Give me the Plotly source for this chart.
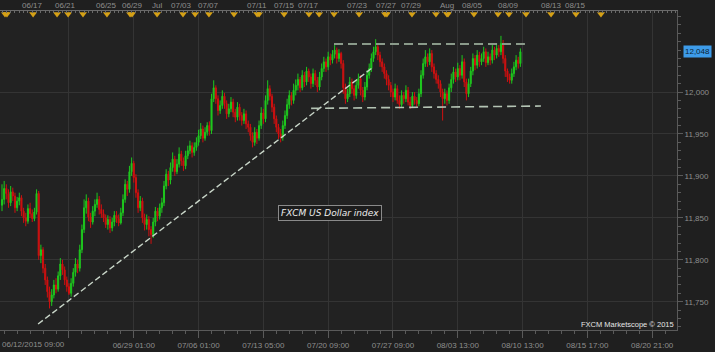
import plotly.graph_objects as go

# ---------------- data (4H candles, FXCM US Dollar index) ----------------
opens = [11865, 11872, 11885, 11879, 11868, 11881, 11876, 11862, 11870, 11874,
         11858, 11850, 11846, 11861, 11855, 11849, 11857, 11879, 11805, 11812,
         11790, 11776, 11762, 11750, 11758, 11770, 11765, 11781, 11795, 11788,
         11776, 11768, 11760, 11772, 11785, 11795, 11790, 11812, 11836, 11862,
         11870, 11851, 11845, 11858, 11866, 11872, 11860, 11855, 11850, 11842,
         11848, 11838, 11845, 11853, 11849, 11844, 11856, 11872, 11890, 11884,
         11905, 11915, 11898, 11880, 11862, 11870, 11850, 11842, 11848, 11836,
         11830, 11845, 11858, 11852, 11862, 11868, 11888, 11902, 11895, 11910,
         11920, 11905, 11914, 11926, 11918, 11912, 11924, 11930, 11936, 11928,
         11934, 11940, 11948, 11956, 11945, 11952, 11960, 11954, 11992, 12005,
         11992, 11978, 11984, 11995, 11986, 11974, 11980, 11988, 11976, 11970,
         11982, 11972, 11966, 11974, 11962, 11958, 11948, 11940, 11952, 11945,
         11960, 11975, 11968, 11990, 12004, 11995, 11982, 11968, 11958, 11950,
         11946, 11960, 11972, 11985, 11996, 11990, 12002, 12008, 12015, 12005,
         12020, 12012, 12025, 12018, 12010, 12022, 12014, 12006, 12018, 12028,
         12036, 12030, 12042, 12038, 12045, 12050, 12040, 12046, 12034, 12005,
         11992, 11998, 12012, 12004, 11996, 12008, 12016, 12002, 11994, 12006,
         12020, 12028, 12040, 12048, 12054, 12044, 12036, 12030, 12022, 12015,
         12008, 12000, 11994, 12004, 11990, 11985, 11996, 11992, 12002, 11988,
         11984, 11995, 11990, 11986, 11998, 12020, 12034, 12042, 12036, 12046,
         12030, 12022, 12015, 12010, 12000, 11992, 11998, 11990, 12005, 12015,
         12024, 12018, 12028, 12020, 12036, 12012, 11998, 12010, 12025, 12040,
         12032, 12044, 12036, 12040, 12048, 12035, 12042, 12038, 12050, 12044,
         12052, 12048, 12058, 12040, 12025, 12018, 12014, 12022, 12030, 12038,
         12034]

closes = [11872, 11885, 11879, 11868, 11881, 11876, 11862, 11870, 11874, 11858,
          11850, 11846, 11861, 11855, 11849, 11857, 11879, 11805, 11812, 11790,
          11776, 11762, 11750, 11758, 11770, 11765, 11781, 11795, 11788, 11776,
          11768, 11760, 11772, 11785, 11795, 11790, 11812, 11836, 11862, 11870,
          11851, 11845, 11858, 11866, 11872, 11860, 11855, 11850, 11842, 11848,
          11838, 11845, 11853, 11849, 11844, 11856, 11872, 11890, 11884, 11905,
          11915, 11898, 11880, 11862, 11870, 11850, 11842, 11848, 11836, 11830,
          11845, 11858, 11852, 11862, 11868, 11888, 11902, 11895, 11910, 11920,
          11905, 11914, 11926, 11918, 11912, 11924, 11930, 11936, 11928, 11934,
          11940, 11948, 11956, 11945, 11952, 11960, 11954, 11992, 12005, 11992,
          11978, 11984, 11995, 11986, 11974, 11980, 11988, 11976, 11970, 11982,
          11972, 11966, 11974, 11962, 11958, 11948, 11940, 11952, 11945, 11960,
          11975, 11968, 11990, 12004, 11995, 11982, 11968, 11958, 11950, 11946,
          11960, 11972, 11985, 11996, 11990, 12002, 12008, 12015, 12005, 12020,
          12012, 12025, 12018, 12010, 12022, 12014, 12006, 12018, 12028, 12036,
          12030, 12042, 12038, 12045, 12050, 12040, 12046, 12034, 12005, 11992,
          11998, 12012, 12004, 11996, 12008, 12016, 12002, 11994, 12006, 12020,
          12028, 12040, 12048, 12054, 12044, 12036, 12030, 12022, 12015, 12008,
          12000, 11994, 12004, 11990, 11985, 11996, 11992, 12002, 11988, 11984,
          11995, 11990, 11986, 11998, 12020, 12034, 12042, 12036, 12046, 12030,
          12022, 12015, 12010, 12000, 11992, 11998, 11990, 12005, 12015, 12024,
          12018, 12028, 12020, 12036, 12012, 11998, 12010, 12025, 12040, 12032,
          12044, 12036, 12040, 12048, 12035, 12042, 12038, 12050, 12044, 12052,
          12048, 12058, 12040, 12025, 12018, 12014, 12022, 12030, 12038, 12034,
          12048]

highs = [11890, 11894, 11890, 11884, 11888, 11886, 11880, 11875, 11880, 11877,
         11862, 11856, 11866, 11868, 11860, 11862, 11884, 11882, 11818, 11815,
         11795, 11780, 11768, 11765, 11776, 11778, 11786, 11802, 11800, 11792,
         11780, 11772, 11778, 11790, 11802, 11800, 11818, 11842, 11872, 11878,
         11874, 11856, 11864, 11872, 11880, 11876, 11866, 11860, 11854, 11853,
         11852, 11850, 11858, 11858, 11854, 11862, 11878, 11896, 11894, 11912,
         11922, 11918, 11902, 11884, 11876, 11874, 11855, 11854, 11852, 11840,
         11850, 11863, 11862, 11867, 11874, 11894, 11908, 11906, 11916, 11928,
         11924, 11920, 11934, 11930, 11922, 11930, 11936, 11942, 11940, 11940,
         11946, 11955, 11963, 11960, 11958, 11964, 11965, 11998, 12014, 12008,
         11996, 11990, 12002, 11999, 11990, 11986, 11994, 11992, 11980, 11988,
         11986, 11976, 11980, 11978, 11966, 11962, 11952, 11958, 11956, 11966,
         11982, 11980, 11996, 12014, 12008, 11998, 11986, 11972, 11962, 11956,
         11966, 11978, 11992, 12002, 12000, 12010, 12015, 12022, 12018, 12026,
         12024, 12030, 12028, 12022, 12028, 12026, 12018, 12024, 12034, 12042,
         12040, 12048, 12046, 12050, 12056, 12053, 12051, 12048, 12038, 12010,
         12004, 12018, 12016, 12008, 12014, 12022, 12020, 12006, 12012, 12026,
         12034, 12046, 12054, 12063, 12058, 12048, 12040, 12034, 12026, 12020,
         12012, 12004, 12010, 12008, 11996, 12002, 12000, 12008, 12006, 11994,
         12000, 12000, 11994, 12004, 12026, 12040, 12050, 12046, 12052, 12050,
         12034, 12026, 12020, 12014, 12004, 12004, 12002, 12010, 12022, 12030,
         12028, 12035, 12032, 12044, 12040, 12016, 12016, 12030, 12046, 12044,
         12050, 12048, 12046, 12054, 12052, 12048, 12046, 12057, 12054, 12058,
         12056, 12067, 12062, 12044, 12028, 12022, 12028, 12036, 12044, 12042,
         12052]

lows = [11858, 11866, 11872, 11862, 11864, 11870, 11856, 11858, 11865, 11852,
        11844, 11840, 11843, 11850, 11845, 11846, 11854, 11800, 11796, 11784,
        11770, 11755, 11742, 11745, 11754, 11760, 11762, 11776, 11782, 11770,
        11762, 11758, 11756, 11768, 11780, 11784, 11786, 11808, 11832, 11855,
        11846, 11838, 11842, 11852, 11862, 11854, 11850, 11845, 11838, 11836,
        11832, 11834, 11840, 11844, 11840, 11842, 11852, 11868, 11876, 11880,
        11900, 11892, 11874, 11856, 11858, 11844, 11835, 11836, 11828, 11819,
        11826, 11840, 11846, 11848, 11856, 11864, 11884, 11888, 11890, 11905,
        11900, 11902, 11910, 11912, 11906, 11908, 11920, 11926, 11922, 11924,
        11930, 11936, 11944, 11940, 11942, 11948, 11948, 11950, 11988, 11986,
        11972, 11974, 11980, 11980, 11968, 11970, 11976, 11970, 11964, 11966,
        11966, 11960, 11962, 11956, 11952, 11942, 11934, 11936, 11938, 11942,
        11956, 11962, 11964, 11985, 11990, 11976, 11962, 11952, 11944, 11940,
        11942, 11956, 11968, 11980, 11984, 11986, 11996, 12002, 12000, 12002,
        12006, 12008, 12012, 12004, 12006, 12008, 12000, 12002, 12014, 12024,
        12024, 12026, 12032, 12034, 12040, 12034, 12036, 12028, 11998, 11986,
        11988, 11994, 11998, 11990, 11992, 12004, 11996, 11988, 11990, 12002,
        12016, 12024, 12036, 12044, 12038, 12030, 12024, 12016, 12008, 12002,
        11994, 11988, 11990, 11986, 11980, 11982, 11986, 11988, 11984, 11980,
        11982, 11985, 11982, 11983, 11994, 12016, 12030, 12030, 12032, 12024,
        12016, 12010, 12004, 11994, 11966, 11986, 11984, 11986, 12000, 12010,
        12012, 12014, 12014, 12016, 12006, 11990, 11994, 12006, 12020, 12026,
        12028, 12030, 12032, 12036, 12030, 12032, 12032, 12034, 12038, 12040,
        12042, 12044, 12034, 12018, 12012, 12010, 12010, 12018, 12026, 12028,
        12030]

# time axis labels (bar index positions)
grid_bars = [31, 61, 91, 121, 151, 181, 211, 241, 271, 301]
grid_labels = ["", "06/29 01:00", "07/06 01:00", "07/13 05:00", "07/20 09:00",
               "07/27 09:00", "08/03 13:00", "08/10 13:00", "08/15 17:00", "08/20 21:00"]
first_label = "06/12/2015 09:00"

# event calendar markers on the top strip
event_bars = [1.4, 2.3, 14.4, 25.5, 30.6, 37.5, 48.6, 59.3, 60.2, 71.8, 83.8, 89.4,
              95.8, 107.4, 118.1, 119.0, 130.6, 142.1, 146.8, 153.7, 165.3, 177.3,
              178.2, 189.8, 200.9, 206.0, 206.5, 218.5, 229.6, 234.7, 242.6, 254.2,
              265.7, 277.3]
top_label_bars = [13.9, 29.6, 48.6, 60.6, 71.8, 83.3, 95.8, 118.0, 130.6, 142.1,
                  164.8, 177.8, 189.4, 206.0, 218.0, 234.7, 254.2, 265.7]
top_labels = ["06/17", "06/21", "06/25", "06/29", "Jul", "07/03", "07/07", "07/11",
              "07/15", "07/17", "07/23", "07/27", "07/29", "Aug", "08/05", "08/09",
              "08/13", "08/15"]

# drawn lines (bar index, price)
resist_x = [153.7, 242.1]
resist_y = [12057.2, 12057.2]
support_x = [143.1, 249.5]
support_y = [11980.5, 11983.3]
trend_x = [16.7, 171.3]
trend_y = [11723.4, 12028.6]

y_ticks = [11750, 11800, 11850, 11900, 11950, 12000]
last_price = 12048

# ---------------- figure ----------------
bars = list(range(len(closes)))
GREEN = "#1ec81e"
RED = "#d01010"
GRID = "#343434"
AXIS = "#5a5a5a"
LABEL = "#8e8e8e"
XR = [-0.93, 312.5]
YR = [11716.3, 12096.6]

fig = go.Figure()
fig.add_trace(go.Candlestick(
    x=bars, open=opens, high=highs, low=lows, close=closes,
    increasing=dict(line=dict(color=GREEN, width=1), fillcolor=GREEN),
    decreasing=dict(line=dict(color=RED, width=1), fillcolor=RED),
    whiskerwidth=0, hoverinfo="skip", showlegend=False))

fig.add_trace(go.Scatter(x=trend_x, y=trend_y, mode="lines",
                         line=dict(color="#c9d6c9", width=1.4, dash="6px,3px"),
                         hoverinfo="skip", showlegend=False))
fig.add_trace(go.Scatter(x=resist_x, y=resist_y, mode="lines",
                         line=dict(color="#8a9a8a", width=2, dash="9px,5px"),
                         hoverinfo="skip", showlegend=False))
fig.add_trace(go.Scatter(x=support_x, y=support_y, mode="lines",
                         line=dict(color="#b4c4b4", width=1.6, dash="9px,5px"),
                         hoverinfo="skip", showlegend=False))

# event triangles on a top overlay axis
fig.add_trace(go.Scatter(x=event_bars, y=[0.9906] * len(event_bars), mode="markers",
                         marker=dict(symbol="triangle-down", size=7, color="#d4a017"),
                         xaxis="x2", yaxis="y2", cliponaxis=False,
                         hoverinfo="skip", showlegend=False))

annotations = []
for b, t in zip(top_label_bars, top_labels):
    annotations.append(dict(x=b, y=1.0188, xref="x", yref="paper", text=t,
                            showarrow=False, xanchor="center", yanchor="middle",
                            font=dict(family="Liberation Sans", size=8, color=LABEL)))
annotations.append(dict(x=0, y=-0.047, xref="paper", yref="paper", text=first_label,
                        showarrow=False, xanchor="left", yanchor="middle",
                        font=dict(family="Liberation Sans", size=8, color=LABEL)))
annotations.append(dict(x=151.9, y=11855.2, xref="x", yref="y",
                        text="FXCM US Dollar index", showarrow=False,
                        font=dict(family="DejaVu Sans", size=9, color="#ececec", style="italic"),
                        bgcolor="#1c1c1c", bordercolor="#8a8a8a", borderwidth=1, borderpad=2))
annotations.append(dict(x=0.998, y=0.0157, xref="paper", yref="paper",
                        text="FXCM Marketscope © 2015", showarrow=False,
                        xanchor="right", yanchor="middle",
                        font=dict(family="Liberation Sans", size=7.5, color="#e6e6e6")))
annotations.append(dict(x=1.0089, y=last_price, xref="paper", yref="y",
                        text=f"{last_price:,}", showarrow=False,
                        xanchor="left", yanchor="middle",
                        bgcolor="#3d9be9", borderpad=1,
                        font=dict(family="Liberation Sans", size=8, color="#0c1f33")))

fig.update_layout(
    width=715, height=352,
    margin=dict(l=0, r=38, t=11, b=22),
    paper_bgcolor="#1f1f1f", plot_bgcolor="#222222",
    hovermode=False, showlegend=False,
    xaxis=dict(range=XR, rangeslider=dict(visible=False),
               tickmode="array", tickvals=grid_bars, ticktext=grid_labels,
               showgrid=True, gridcolor=GRID, gridwidth=1, zeroline=False,
               ticks="outside", ticklen=7, tickcolor=AXIS,
               showline=True, linecolor=AXIS, linewidth=1,
               tickfont=dict(family="Liberation Sans", size=8, color=LABEL),
               minor=dict(tick0=1, dtick=6, ticks="outside", ticklen=3,
                          tickcolor=AXIS, showgrid=False)),
    xaxis2=dict(range=XR, overlaying="x", side="top", anchor="y",
                showgrid=False, zeroline=False, showticklabels=False,
                ticks="inside", ticklen=2, tickcolor="#6a6a6a", dtick=2, tick0=0,
                showline=True, linecolor="#6a6a6a", linewidth=1),
    yaxis=dict(range=YR, side="right", tickmode="array", tickvals=y_ticks,
               ticktext=[f"{v:,}" for v in y_ticks],
               showgrid=True, gridcolor=GRID, gridwidth=1, zeroline=False,
               ticks="outside", ticklen=5, tickcolor=AXIS,
               showline=True, linecolor=AXIS, linewidth=1,
               tickfont=dict(family="Liberation Sans", size=8, color=LABEL),
               minor=dict(dtick=10, tick0=0, ticks="outside", ticklen=3,
                          tickcolor=AXIS, showgrid=False)),
    yaxis2=dict(range=[0, 1], overlaying="y", visible=False),
    annotations=annotations,
)

fig.write_html("out.html")
